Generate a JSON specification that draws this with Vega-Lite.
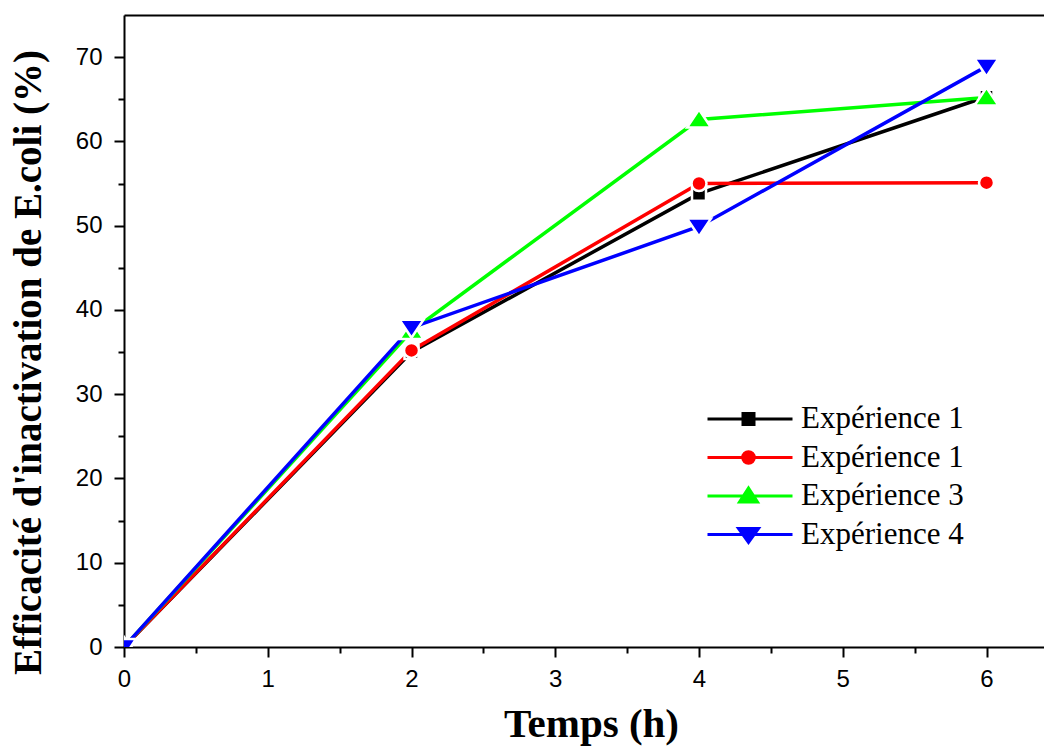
{
  "$schema": "https://vega.github.io/schema/vega-lite/v6.json",
  "autosize": "none",
  "padding": {"left": 124, "top": 15, "right": 0, "bottom": 104},
  "width": 920,
  "height": 632,
  "background": "white",
  "config": {
    "view": {"stroke": null},
    "axis": {
      "domainColor": "black",
      "domainWidth": 2,
      "tickColor": "black",
      "tickWidth": 2,
      "labelFont": "Liberation Sans",
      "labelFontSize": 24,
      "labelColor": "black",
      "titleFont": "Liberation Serif",
      "titleFontWeight": "bold",
      "titleColor": "black",
      "grid": false,
      "zindex": 1
    },
    "legend": {
      "orient": "none",
      "legendX": 583,
      "legendY": 388.5,
      "title": null,
      "labelFont": "Liberation Serif",
      "labelFontSize": 31,
      "labelColor": "black",
      "labelLimit": 400,
      "labelOffset": 63,
      "rowPadding": 6.5,
      "padding": 0,
      "symbolSize": 400,
      "symbolStrokeWidth": 3,
      "symbolOpacity": 1
    }
  },
  "data": {
    "values": [
      {"t": 0, "e": 0, "s": "A"},
      {"t": 2, "e": 35.0, "s": "A"},
      {"t": 4, "e": 53.8, "s": "A"},
      {"t": 6, "e": 65.3, "s": "A"},
      {"t": 0, "e": 0, "s": "B"},
      {"t": 2, "e": 35.2, "s": "B"},
      {"t": 4, "e": 55.0, "s": "B"},
      {"t": 6, "e": 55.1, "s": "B"},
      {"t": 0, "e": 0, "s": "C"},
      {"t": 2, "e": 37.5, "s": "C"},
      {"t": 4, "e": 62.6, "s": "C"},
      {"t": 6, "e": 65.2, "s": "C"},
      {"t": 0, "e": 0, "s": "D"},
      {"t": 2, "e": 37.9, "s": "D"},
      {"t": 4, "e": 49.9, "s": "D"},
      {"t": 6, "e": 68.9, "s": "D"}
    ]
  },
  "resolve": {"axis": {"x": "independent", "y": "independent"}},
  "layer": [
    {
      "mark": {"type": "line", "strokeWidth": 3.5, "clip": true},
      "encoding": {
        "x": {
          "field": "t", "type": "quantitative",
          "scale": {"domain": [0, 6.4], "nice": false, "zero": false},
          "axis": {"orient": "bottom", "values": [0, 1, 2, 3, 4, 5, 6], "tickSize": 10, "labelPadding": 10, "title": "Temps (h)", "titleFontSize": 41, "titlePadding": 13, "titleX": 467, "labelFlush": false}
        },
        "y": {
          "field": "e", "type": "quantitative",
          "scale": {"domain": [0, 75], "nice": false},
          "axis": {"orient": "left", "values": [0, 10, 20, 30, 40, 50, 60, 70], "tickSize": 10, "labelPadding": 12, "title": "Efficacité d'inactivation de E.coli (%)", "titleFontSize": 39, "titlePadding": 27, "titleY": 347, "labelFlush": false}
        },
        "color": {
          "field": "s", "type": "nominal",
          "scale": {"domain": ["A", "B", "C", "D"], "range": ["#000000", "#FF0000", "#00FF00", "#0000FF"]}
        }
      }
    },
    {
      "mark": {"type": "point", "filled": true, "opacity": 1, "stroke": "white", "strokeWidth": 2.5, "size": 400, "clip": true},
      "encoding": {
        "x": {
          "field": "t", "type": "quantitative",
          "axis": {"orient": "bottom", "values": [0.5, 1.5, 2.5, 3.5, 4.5, 5.5], "tickSize": 6, "labels": false, "domain": false, "title": null}
        },
        "y": {
          "field": "e", "type": "quantitative",
          "axis": {"orient": "left", "values": [5, 15, 25, 35, 45, 55, 65], "tickSize": 6, "labels": false, "domain": false, "title": null}
        },
        "color": {
          "field": "s", "type": "nominal",
          "legend": {
            "labelExpr": "datum.label == 'A' ? 'Expérience 1' : datum.label == 'B' ? 'Expérience 1' : datum.label == 'C' ? 'Expérience 3' : 'Expérience 4'",
            "symbolType": {"expr": "datum.value == 'A' ? 'M-1.5,0H7M2.05,-0.55H3.15V0.55H2.05Z' : datum.value == 'B' ? 'M-1.5,0H7M2.02,0A0.58,0.58 0 1,1 3.18,0A0.58,0.58 0 1,1 2.02,0Z' : datum.value == 'C' ? 'M-1.5,0H7M2.6,-0.8L3.5,0.6L1.7,0.6Z' : 'M-1.5,0H7M1.6,-0.6L3.6,-0.6L2.6,0.8Z'"},
            "symbolStrokeColor": {"expr": "scale('color', datum.value)"},
            "symbolFillColor": {"expr": "scale('color', datum.value)"}
          }
        },
        "shape": {
          "field": "s", "type": "nominal",
          "scale": {"range": ["M-0.7,-0.7H0.7V0.7H-0.7Z", "M-0.75,0A0.75,0.75 0 1,1 0.75,0A0.75,0.75 0 1,1 -0.75,0Z", "M0,-1L1.2,0.8L-1.2,0.8Z", "M-1.2,-0.8L1.2,-0.8L0,1Z"]},
          "legend": null
        }
      }
    },
    {
      "mark": {"type": "point", "opacity": 0},
      "encoding": {
        "x": {
          "field": "t", "type": "quantitative",
          "axis": {"orient": "top", "ticks": false, "labels": false, "domain": true, "title": null}
        },
        "y": {"field": "e", "type": "quantitative", "axis": null}
      }
    }
  ]
}
